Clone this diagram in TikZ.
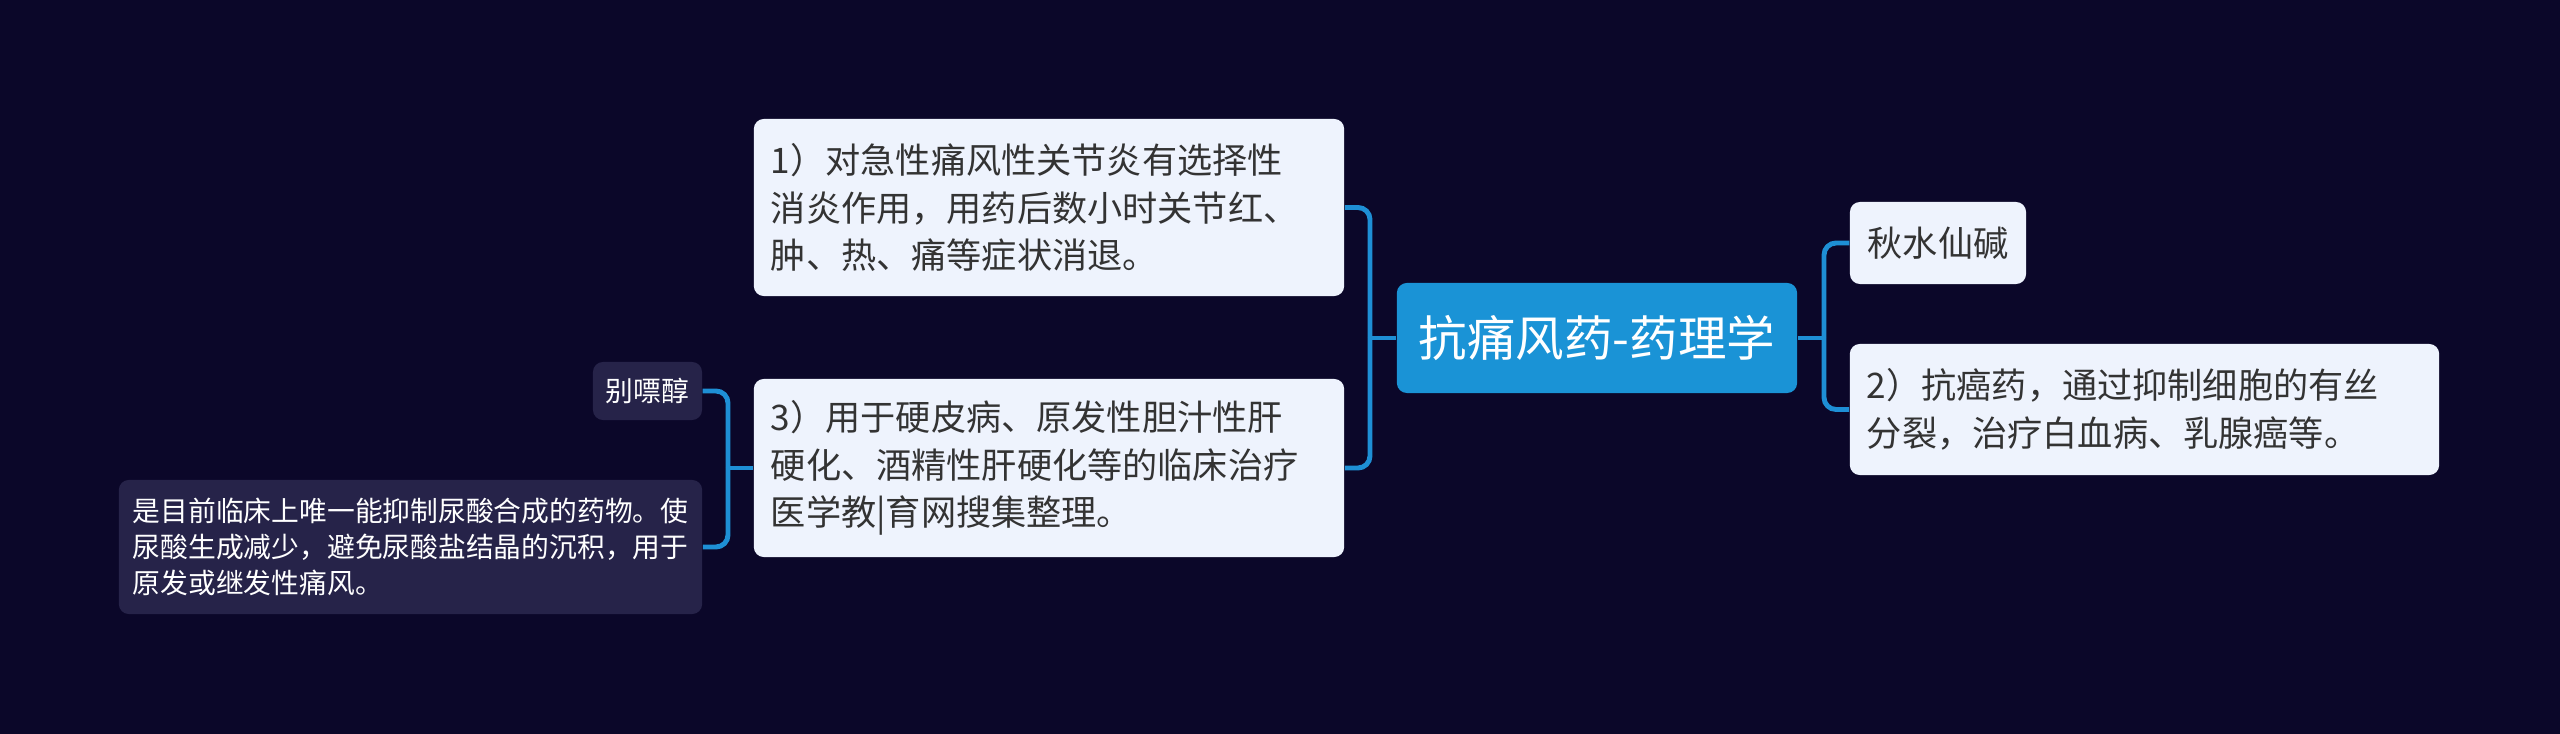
\documentclass[tikz,border=0pt]{standalone}
\usepackage{fontspec}
\setmainfont{Noto Sans CJK SC}
\usepackage{tikz}
\usetikzlibrary{positioning}
\definecolor{bgnavy}{HTML}{0B0729}
\definecolor{rootblue}{HTML}{1A93D6}
\definecolor{linkblue}{HTML}{1E8FD5}
\definecolor{leaffill}{HTML}{EEF3FD}
\definecolor{leaftext}{HTML}{333333}
\definecolor{notefill}{HTML}{262349}

\begin{document}
\begin{tikzpicture}[x=0.01cm,y=-0.01cm,
    leaf/.style={rounded corners=0.1cm,fill=leaffill,text=leaftext,align=left,inner xsep=0.17cm,inner ysep=0pt,font=\fontsize{10pt}{13.5pt}\selectfont},
    note/.style={rounded corners=0.1cm,fill=notefill,text=white,align=left,inner xsep=0.14cm,inner ysep=0pt,font=\fontsize{7.9pt}{10.2pt}\selectfont},
    elbow/.style={to path={|- (\tikztotarget)}}]
  \fill[bgnavy] (0,0) rectangle (2560,734);
  \node[fill=rootblue,text=white,rounded corners=0.1cm,minimum width=4cm,minimum height=1.1cm,font=\fontsize{13.8pt}{16pt}\selectfont] (root) at (1597,338) {抗痛风药-药理学};
  \begin{scope}[every node/.style={leaf}]
    \node[text width=5.56cm,minimum height=1.77cm] (one) at (1049,207.5) {1）对急性痛风性关节炎有选择性\\消炎作用，用药后数小时关节红、\\肿、热、痛等症状消退。};
    \node[text width=5.56cm,minimum height=1.78cm] (three) at (1049,468) {3）用于硬皮病、原发性胆汁性肝\\硬化、酒精性肝硬化等的临床治疗\\医学教|育网搜集整理。};
    \node[minimum width=1.76cm,minimum height=0.82cm,inner xsep=0.1cm] (qiu) at (1938,243) {秋水仙碱};
    \node[text width=5.55cm,minimum height=1.31cm] (two) at (2144.5,409.5) {2）抗癌药，通过抑制细胞的有丝\\分裂，治疗白血病、乳腺癌等。};
  \end{scope}
  \begin{scope}[every node/.style={note}]
    \node[minimum width=1.09cm,minimum height=0.58cm,inner xsep=0.08cm] (bie) at (647.5,391) {别嘌醇};
    \node[text width=5.55cm,minimum height=1.34cm] (desc) at (410.5,547) {是目前临床上唯一能抑制尿酸合成的药物。使\\尿酸生成减少，避免尿酸盐结晶的沉积，用于\\原发或继发性痛风。};
  \end{scope}
  \coordinate (jl) at (1370,338);
  \coordinate (jr) at (1824,338);
  \coordinate (jd) at (728,468);
  \begin{scope}[every edge/.style={draw=linkblue,line width=1.4pt,rounded corners=0.12cm}]
    \path (root.west) edge (jl);
    \path (jl) edge[elbow] (one.east);
    \path (jl) edge[elbow] (three.east);
    \path (root.east) edge (jr);
    \path (jr) edge[elbow] (qiu.west);
    \path (jr) edge[elbow] (two.west);
    \path (three.west) edge (jd);
    \path (jd) edge[elbow] (bie.east);
    \path (jd) edge[elbow] (desc.east);
  \end{scope}
\end{tikzpicture}
\end{document}
